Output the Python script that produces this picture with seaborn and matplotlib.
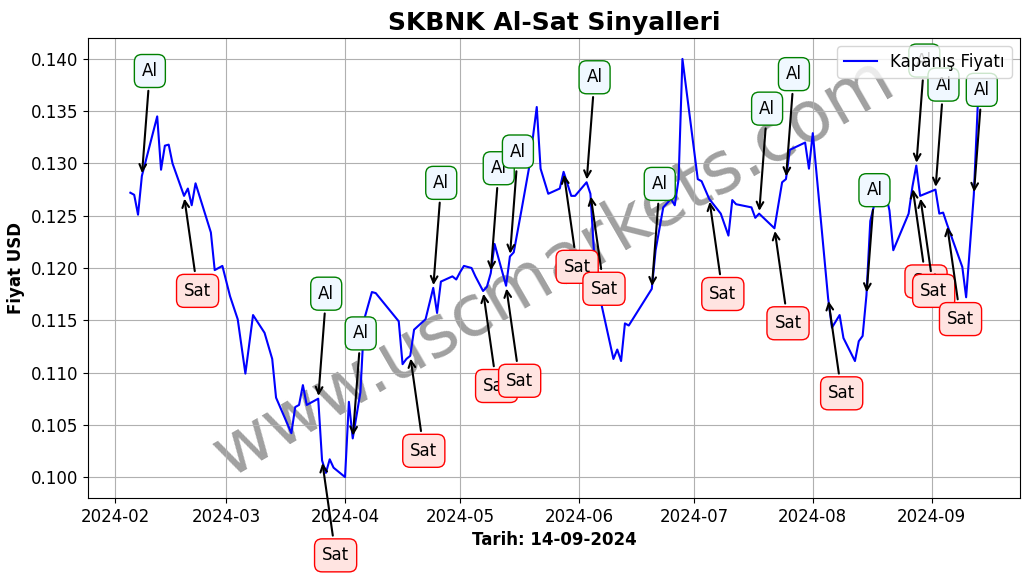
import matplotlib
matplotlib.use("Agg")
import matplotlib.pyplot as plt
import seaborn as sns
import pandas as pd

# ---- data ----
dates = [
    "2024-02-05", "2024-02-06", "2024-02-07", "2024-02-08", "2024-02-12", "2024-02-13",
    "2024-02-14", "2024-02-15", "2024-02-16", "2024-02-19", "2024-02-20", "2024-02-21",
    "2024-02-22", "2024-02-26", "2024-02-27", "2024-02-29", "2024-03-02", "2024-03-04",
    "2024-03-06", "2024-03-08", "2024-03-11", "2024-03-13", "2024-03-14", "2024-03-18",
    "2024-03-19", "2024-03-20", "2024-03-21", "2024-03-22", "2024-03-25", "2024-03-26",
    "2024-03-27", "2024-03-28", "2024-03-29", "2024-04-01", "2024-04-02", "2024-04-03",
    "2024-04-05", "2024-04-06", "2024-04-08", "2024-04-09", "2024-04-15", "2024-04-16",
    "2024-04-17", "2024-04-18", "2024-04-19", "2024-04-22", "2024-04-24", "2024-04-25",
    "2024-04-26", "2024-04-29", "2024-04-30", "2024-05-01", "2024-05-02", "2024-05-04",
    "2024-05-05", "2024-05-07", "2024-05-08", "2024-05-09", "2024-05-10", "2024-05-13",
    "2024-05-14", "2024-05-15", "2024-05-17", "2024-05-19", "2024-05-21", "2024-05-22",
    "2024-05-24", "2024-05-27", "2024-05-28", "2024-05-30", "2024-05-31", "2024-06-03",
    "2024-06-04", "2024-06-05", "2024-06-07", "2024-06-10", "2024-06-11", "2024-06-12",
    "2024-06-13", "2024-06-14", "2024-06-20", "2024-06-21", "2024-06-23", "2024-06-25",
    "2024-06-26", "2024-06-27", "2024-06-28", "2024-07-02", "2024-07-03", "2024-07-05",
    "2024-07-08", "2024-07-10", "2024-07-11", "2024-07-12", "2024-07-16", "2024-07-17",
    "2024-07-18", "2024-07-22", "2024-07-24", "2024-07-25", "2024-07-26", "2024-07-30",
    "2024-07-31", "2024-08-01", "2024-08-05", "2024-08-06", "2024-08-08", "2024-08-09",
    "2024-08-12", "2024-08-13", "2024-08-14", "2024-08-15", "2024-08-16", "2024-08-17",
    "2024-08-19", "2024-08-21", "2024-08-22", "2024-08-26", "2024-08-27", "2024-08-28",
    "2024-08-29", "2024-09-02", "2024-09-03", "2024-09-04", "2024-09-05", "2024-09-09",
    "2024-09-10", "2024-09-12", "2024-09-13",
]
prices = [
    0.1272, 0.1270, 0.1251, 0.1288, 0.1345, 0.1294,
    0.1317, 0.1318, 0.1300, 0.1269, 0.1276, 0.1260,
    0.1281, 0.1234, 0.1198, 0.1202, 0.1173, 0.1151,
    0.1099, 0.1155, 0.1138, 0.1113, 0.1076, 0.1042,
    0.1067, 0.1069, 0.1088, 0.1069, 0.1075, 0.1016,
    0.1004, 0.1017, 0.1009, 0.1000, 0.1072, 0.1037,
    0.1081, 0.1151, 0.1177, 0.1176, 0.1149, 0.1108,
    0.1113, 0.1116, 0.1141, 0.1151, 0.1181, 0.1157,
    0.1187, 0.1192, 0.1189, 0.1196, 0.1202, 0.1200,
    0.1192, 0.1178, 0.1182, 0.1195, 0.1223, 0.1183,
    0.1211, 0.1215, 0.1255, 0.1296, 0.1354, 0.1295,
    0.1271, 0.1276, 0.1292, 0.1269, 0.1269, 0.1282,
    0.1271, 0.1211, 0.1163, 0.1113, 0.1122, 0.1111,
    0.1147, 0.1145, 0.1180, 0.1217, 0.1258, 0.1266,
    0.1260, 0.1285, 0.1400, 0.1285, 0.1283, 0.1266,
    0.1252, 0.1231, 0.1265, 0.1261, 0.1258, 0.1248,
    0.1252, 0.1238, 0.1282, 0.1285, 0.1313, 0.1320,
    0.1295, 0.1329, 0.1171, 0.1143, 0.1155, 0.1133,
    0.1111, 0.1130, 0.1135, 0.1174, 0.1245, 0.1260,
    0.1288, 0.1255, 0.1217, 0.1252, 0.1278, 0.1298,
    0.1269, 0.1275, 0.1252, 0.1253, 0.1242, 0.1201,
    0.1172, 0.1270, 0.1353,
]
al_dates = ["2024-02-08", "2024-03-25", "2024-04-03", "2024-04-24", "2024-05-09",
            "2024-05-14", "2024-06-03", "2024-06-20", "2024-07-18", "2024-07-25",
            "2024-08-15", "2024-08-28", "2024-09-02", "2024-09-12"]
sat_dates = ["2024-02-19", "2024-03-26", "2024-04-18", "2024-05-07", "2024-05-13",
             "2024-05-28", "2024-06-04", "2024-07-05", "2024-07-22", "2024-08-05",
             "2024-08-27", "2024-08-29", "2024-09-05"]

title = "SKBNK Al-Sat Sinyalleri"
xlabel = "Tarih: 14-09-2024"
ylabel = "Fiyat USD"
legend_label = "Kapanış Fiyatı"
watermark = "www.uscmarkets.com"

# ---- figure ----
df = pd.DataFrame({"Tarih": pd.to_datetime(dates), "Fiyat": prices})
lookup = dict(zip(df["Tarih"], df["Fiyat"]))

fig = plt.figure(figsize=(10.28, 5.74), dpi=100)
ax = fig.add_axes([88 / 1028, 1 - 498 / 574, (1020 - 88) / 1028, (498 - 38) / 574])

ax.text(0.5, 0.5, watermark, transform=ax.transAxes, fontsize=51, color="gray",
        alpha=0.75, rotation=30, ha="center", va="center", zorder=1)

sns.lineplot(data=df, x="Tarih", y="Fiyat", ax=ax, color="blue", linewidth=1.5,
             label=legend_label, zorder=2)

for d in al_dates:
    t = pd.Timestamp(d)
    ax.annotate("Al", xy=(t, lookup[t]), xytext=(0, 72), textcoords="offset points",
                ha="left", fontsize=12,
                arrowprops=dict(arrowstyle="->", color="black", lw=1.5),
                bbox=dict(boxstyle="round,pad=0.45", fc="aliceblue", ec="green", lw=1))
for d in sat_dates:
    t = pd.Timestamp(d)
    ax.annotate("Sat", xy=(t, lookup[t]), xytext=(0, -72), textcoords="offset points",
                ha="left", fontsize=12,
                arrowprops=dict(arrowstyle="->", color="black", lw=1.5),
                bbox=dict(boxstyle="round,pad=0.45", fc="mistyrose", ec="red", lw=1))

ax.set_title(title, fontsize=18, fontweight="bold")
ax.set_xlabel(xlabel, fontsize=12, fontweight="bold")
ax.set_ylabel(ylabel, fontsize=12, fontweight="bold")
ax.tick_params(labelsize=12)
ax.grid(True)
ax.legend(loc="upper right", fontsize=12)

fig.savefig("out.png", dpi=100)
